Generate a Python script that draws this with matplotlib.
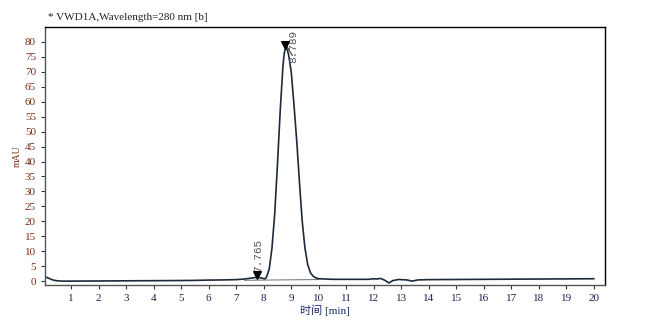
import matplotlib
matplotlib.use("Agg")
import matplotlib.pyplot as plt

# Chromatogram trace (time in min, signal in mAU)
time_min = [0.0, 0.1, 0.2, 0.3, 0.4, 0.5, 0.7, 1.0, 2.0, 3.0, 4.0, 5.0, 5.5, 6.0,
            6.5, 7.0, 7.3, 7.5, 7.65, 7.765, 7.9, 8.0, 8.05, 8.1, 8.2, 8.3, 8.4,
            8.5, 8.6, 8.7, 8.75, 8.8, 8.85, 8.9, 9.0, 9.1, 9.2, 9.3, 9.4, 9.5,
            9.6, 9.7, 9.8, 9.9, 10.0, 10.5, 11.0, 11.8, 12.0, 12.1, 12.25, 12.4,
            12.55, 12.7, 12.9, 13.2, 13.4, 13.6, 14.0, 15.0, 16.0, 17.0, 18.0,
            19.0, 20.0]
signal_mau = [1.5, 1.3, 0.9, 0.5, 0.25, 0.1, 0.0, 0.0, 0.05, 0.1, 0.15, 0.2, 0.25, 0.35,
              0.4, 0.5, 0.7, 0.95, 1.15, 1.25, 1.1, 0.85, 0.75, 1.3, 4.0, 11.0, 22.5,
              39.0, 57.0, 72.0, 76.5, 78.0, 77.5, 76.0, 70.0, 59.0, 47.0, 33.0, 20.0, 11.0,
              5.5, 2.8, 1.6, 1.1, 0.8, 0.6, 0.6, 0.6, 0.8, 0.7, 0.9, 0.3,
              -0.6, 0.2, 0.55, 0.4, 0.0, 0.4, 0.5, 0.55, 0.6, 0.65, 0.7,
              0.75, 0.8]

# Integration baseline under the peaks
baseline_t = [7.3, 10.0]
baseline_y = [0.3, 0.5]

# Peak annotations
peak_times = [7.765, 8.789]
peak_marker_y = [2.0, 79.0]
peak_labels = ["7.765", "8.789"]

x_ticks = list(range(1, 21))
y_ticks = list(range(0, 85, 5))

plt.rcParams['font.family'] = ['Liberation Serif', 'Noto Sans CJK SC', 'DejaVu Sans']

fig = plt.figure(figsize=(6.56, 3.29), dpi=100)
ax = fig.add_axes([0.0686, 0.1337, 0.8534, 0.7843])

ax.plot(baseline_t, baseline_y, color='#555555', lw=0.6)
ax.plot(time_min, signal_mau, color='#1c2a3a', lw=1.2)

ax.scatter(peak_times, peak_marker_y, marker='v', s=30, color='black', zorder=5)
ax.text(peak_times[0] + 0.02, 3.0, peak_labels[0], rotation=90, fontsize=8,
        color='#555566', ha='center', va='bottom', family=['Liberation Mono'])
ax.text(peak_times[1] + 0.28, 73.0, peak_labels[1], rotation=90, fontsize=8,
        color='#555566', ha='center', va='bottom', family=['Liberation Mono'])
ax.plot([peak_times[1] + 0.05, peak_times[1] + 0.25], [78.5, 75.5], color='#333333', lw=0.8)

ax.set_xlim(0.05, 20.4)
ax.set_ylim(-1.3, 85)
ax.set_xticks(x_ticks)
ax.set_yticks(y_ticks)
ax.tick_params(axis='x', labelsize=8, labelcolor='#1a2050', length=3, color='#333333')
ax.tick_params(axis='y', labelsize=8, labelcolor='#7a2e12', length=3, color='#333333')
for s in ax.spines.values():
    s.set_linewidth(1.0)
    s.set_color('black')
ax.spines['left'].set_color('#555555')
ax.spines['bottom'].set_color('#555555')

ax.set_xlabel('时间 [min]', fontsize=8, color='#1a2a6a', labelpad=1)
ax.set_ylabel('mAU', fontsize=7, color='#7a2e12', labelpad=2)

fig.text(0.073, 0.94, '* VWD1A,Wavelength=280 nm [b]', fontsize=8, color='#222222',
         family=['Liberation Serif', 'DejaVu Serif'])

fig.savefig('out.png', dpi=100, facecolor='white')
